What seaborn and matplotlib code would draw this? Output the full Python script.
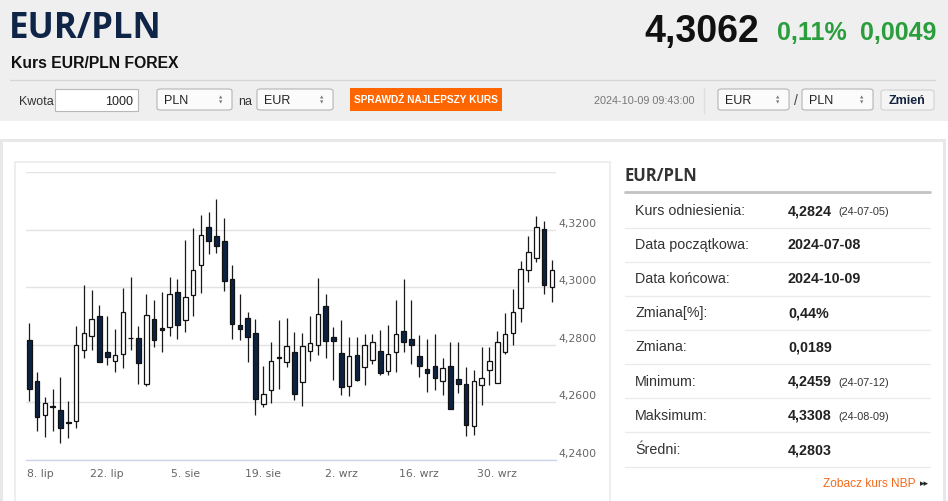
import numpy as np
import pandas as pd
import matplotlib
matplotlib.use("Agg")
import matplotlib.pyplot as plt
import matplotlib.transforms as mtransforms
from matplotlib.patches import Rectangle, FancyBboxPatch
from matplotlib.lines import Line2D
import seaborn as sns

# trading days 2024-07-08 .. 2024-10-09 (ordinal axis)
dates = pd.bdate_range("2024-07-08", "2024-10-09")

opens = [4.2815, 4.2674, 4.2554, 4.2586, 4.2573, 4.2530, 4.2535, 4.2781, 4.2831, 4.2900,
         4.2774, 4.2743, 4.2767, 4.2824, 4.2824, 4.2663, 4.2889, 4.2859, 4.2861, 4.2983,
         4.2885, 4.2972, 4.3077, 4.3211, 4.3179, 4.3161, 4.3029, 4.2868, 4.2891, 4.2840,
         4.2593, 4.2643, 4.2756, 4.2740, 4.2773, 4.2670, 4.2779, 4.2797, 4.2933, 4.2825,
         4.2770, 4.2655, 4.2763, 4.2722, 4.2746, 4.2777, 4.2708, 4.2776, 4.2848, 4.2821,
         4.2761, 4.2716, 4.2724, 4.2674, 4.2724, 4.2680, 4.2663, 4.2518, 4.2661, 4.2713,
         4.2668, 4.2774, 4.2840, 4.2926, 4.3059, 4.3103, 4.3202, 4.2999]
highs = [4.2875, 4.2704, 4.2617, 4.2646, 4.2687, 4.2603, 4.2866, 4.3007, 4.2991, 4.2939,
         4.2900, 4.2855, 4.2998, 4.3037, 4.2866, 4.2977, 4.2956, 4.2984, 4.3037, 4.3028,
         4.3165, 4.3205, 4.3252, 4.3263, 4.3308, 4.3242, 4.3077, 4.2977, 4.2915, 4.2889,
         4.2726, 4.2808, 4.2886, 4.2892, 4.2843, 4.2842, 4.2900, 4.3031, 4.2977, 4.2861,
         4.2886, 4.2825, 4.2825, 4.2837, 4.2837, 4.2852, 4.2867, 4.2956, 4.3029, 4.2954,
         4.2832, 4.2819, 4.2837, 4.2753, 4.2808, 4.2809, 4.2722, 4.2710, 4.2790, 4.2791,
         4.2846, 4.2910, 4.2993, 4.3092, 4.3179, 4.3249, 4.3232, 4.3095]
lows = [4.2602, 4.2498, 4.2478, 4.2500, 4.2459, 4.2475, 4.2508, 4.2752, 4.2780, 4.2738,
        4.2729, 4.2706, 4.2718, 4.2782, 4.2663, 4.2655, 4.2791, 4.2774, 4.2831, 4.2819,
        4.2843, 4.2898, 4.2979, 4.3115, 4.3120, 4.2985, 4.2819, 4.2817, 4.2739, 4.2554,
        4.2583, 4.2595, 4.2645, 4.2722, 4.2606, 4.2588, 4.2743, 4.2765, 4.2752, 4.2678,
        4.2626, 4.2620, 4.2674, 4.2660, 4.2733, 4.2693, 4.2693, 4.2704, 4.2773, 4.2732,
        4.2686, 4.2635, 4.2643, 4.2625, 4.2576, 4.2631, 4.2483, 4.2486, 4.2590, 4.2660,
        4.2668, 4.2769, 4.2799, 4.2880, 4.3017, 4.3086, 4.2976, 4.2950]
closes = [4.2645, 4.2548, 4.2597, 4.2584, 4.2508, 4.2528, 4.2798, 4.2841, 4.2889, 4.2740,
          4.2757, 4.2763, 4.2912, 4.2822, 4.2736, 4.2903, 4.2817, 4.2851, 4.2976, 4.2868,
          4.2965, 4.3060, 4.3181, 4.3161, 4.3144, 4.3023, 4.2871, 4.2854, 4.2825, 4.2610,
          4.2628, 4.2743, 4.2754, 4.2794, 4.2629, 4.2794, 4.2805, 4.2906, 4.2813, 4.2813,
          4.2651, 4.2759, 4.2676, 4.2797, 4.2808, 4.2700, 4.2768, 4.2837, 4.2810, 4.2797,
          4.2726, 4.2702, 4.2684, 4.2718, 4.2576, 4.2664, 4.2521, 4.2674, 4.2684, 4.2742,
          4.2808, 4.2838, 4.2915, 4.3063, 4.3121, 4.3211, 4.3008, 4.3059]

x_tick_pos = [0, 10, 20, 30, 40, 50, 60]
x_tick_labels = ["8. lip", "22. lip", "5. sie", "19. sie", "2. wrz", "16. wrz", "30. wrz"]
y_ticks = [4.24, 4.26, 4.28, 4.30, 4.32, 4.34]
y_tick_labels = ["4,2400", "4,2600", "4,2800", "4,3000", "4,3200", ""]

table_labels = ["Kurs odniesienia:", "Data początkowa:", "Data końcowa:", "Zmiana[%]:",
                "Zmiana:", "Minimum:", "Maksimum:", "Średni:"]
table_values = ["4,2824", "2024-07-08", "2024-10-09", "0,44%", "0,0189", "4,2459", "4,3308", "4,2803"]
table_dates = ["(24-07-05)", "", "", "", "", "(24-07-12)", "(24-08-09)", ""]

W, H = 948, 501
NAVY = "#0f2547"
DARK = "#0c2243"
GRAY_TXT = "#666666"
ORANGE = "#ff6600"
GREEN = "#2a9d3c"
SANS = ["Liberation Sans", "DejaVu Sans"]

sns.set_theme(style="white")
plt.rcParams["font.family"] = SANS

fig = plt.figure(figsize=(W / 100, H / 100), dpi=100)
fig.patch.set_facecolor("white")


def fx(x):
    return x / W


def fy(y):
    return 1 - y / H


def rect(x0, y0, x1, y1, fc, ec="none", lw=0, z=-10, rounded=False):
    if rounded:
        p = FancyBboxPatch((fx(x0), fy(y1)), fx(x1) - fx(x0), fy(y0) - fy(y1),
                           boxstyle="round,pad=0,rounding_size=0.004",
                           transform=fig.transFigure, fc=fc, ec=ec, lw=lw, zorder=z)
    else:
        p = Rectangle((fx(x0), fy(y1)), fx(x1) - fx(x0), fy(y0) - fy(y1),
                      transform=fig.transFigure, fc=fc, ec=ec, lw=lw, zorder=z)
    fig.patches.append(p)


def hline(x0, x1, y, color, lw=1, z=-5):
    fig.add_artist(Line2D([fx(x0), fx(x1)], [fy(y), fy(y)], transform=fig.transFigure,
                          color=color, lw=lw, zorder=z))


def txt(x, y, s, **kw):
    kw.setdefault("family", SANS)
    fig.text(fx(x), fy(y), s, **kw)


# header background
rect(0, 0, W, 121, "#efefef")
rect(1, 140, 944, 505, "white", ec="#e8e8e8", lw=2.2)
rect(15, 162, 610, 510, "white", ec="#ebebeb", lw=1.2, z=-9)

txt(9, 38, "EUR/PLN", family="Open Sans", weight="bold", size=25, color=NAVY, va="baseline")
txt(11, 68.5, "Kurs EUR/PLN FOREX", weight="bold", size=11.3, color="#111111", va="baseline")
txt(759, 42, "4,3062", weight="bold", size=27, color="#111111", ha="right", va="baseline")
txt(777, 39.5, "0,11%", weight="bold", size=18, color=GREEN, va="baseline")
txt(860, 39.5, "0,0049", weight="bold", size=18, color=GREEN, va="baseline")
hline(10, 935, 79.5, "#d6d6d6")

# toolbar
txt(19, 105, "Kwota", size=9, color="#333333", va="baseline")
rect(55, 89, 138, 111, "white", ec="#b8b8b8", lw=0.8, z=-4)
txt(133, 105, "1000", size=9, color="#222222", ha="right", va="baseline")
for x0, x1, lab in [(157, 232, "PLN"), (257, 333, "EUR"), (718, 789, "EUR"), (802, 873, "PLN")]:
    rect(x0, 89, x1, 110, "#fbfbfb", ec="#b5b5b5", lw=0.8, z=-4, rounded=True)
    txt(x0 + 7, 104.5, lab, size=9, color="#222222", va="baseline")
    txt(x1 - 11, 97.5, "▲", family="DejaVu Sans", size=3.2, color="#777777", ha="center", va="center")
    txt(x1 - 11, 102.5, "▼", family="DejaVu Sans", size=3.2, color="#777777", ha="center", va="center")
txt(238, 105, "na", size=9, color="#333333", va="baseline")
txt(795.5, 105, "/", size=10, color="#444444", ha="center", va="baseline")
rect(350, 88, 502, 111, ORANGE, z=-4)
txt(426, 100, "SPRAWDŹ NAJLEPSZY KURS", weight="bold", size=7.3, color="white", ha="center", va="center")
txt(694, 104, "2024-10-09 09:43:00", size=7.8, color="#777777", ha="right", va="baseline")
fig.add_artist(Line2D([fx(704), fx(704)], [fy(88), fy(113)], transform=fig.transFigure,
                      color="#dddddd", lw=1, zorder=-5))
rect(881, 90, 934, 110, "#f4f4f4", ec="#d2d2d2", lw=0.8, z=-4, rounded=True)
txt(907, 100.5, "Zmień", weight="bold", size=9, color="#13223d", ha="center", va="center")

# candlestick chart
ax = fig.add_axes([fx(26), fy(459.5), fx(556) - fx(26), fy(172.3) - fy(459.5)])
ax.set_facecolor("none")
df = pd.DataFrame({"date": dates, "open": opens, "high": highs, "low": lows, "close": closes})
df["idx"] = np.arange(len(df))
df["down"] = df["close"] < df["open"]
df["bottom"] = df[["open", "close"]].min(axis=1)
df["height"] = (df["close"] - df["open"]).abs()

ax.vlines(df["idx"], df["low"], df["high"], color="#1a1a1a", lw=0.9, zorder=2)
fills = np.where(df["down"], DARK, "white")
ax.bar(df["idx"], df["height"], bottom=df["bottom"], width=0.58, color=fills,
       edgecolor="#111111", linewidth=0.9, zorder=3)

ax.set_xlim(-0.42, 67.53)
ax.set_ylim(4.24, 4.34)
ax.set_yticks(y_ticks)
ax.set_yticklabels([])
ax.tick_params(axis="y", length=0)
ax.grid(axis="y", color="#e3e3e3", lw=1)
ax.set_axisbelow(True)
for side in ["top", "left", "right"]:
    ax.spines[side].set_visible(False)
ax.spines["bottom"].set_color("#ccd6eb")
ax.spines["bottom"].set_linewidth(1)
ax.spines["bottom"].set_zorder(4)
ax.set_xticks(x_tick_pos)
ax.set_xticklabels([])
ax.tick_params(axis="x", length=5.2, width=0.9, color="#ccd6eb", direction="out")

xtrans = mtransforms.offset_copy(ax.get_xaxis_transform(), fig=fig, x=0, y=-14.5, units="dots")
for pos, lab in zip(x_tick_pos, x_tick_labels):
    if pos == 0:
        ax.text(-0.33, 0, lab, transform=xtrans, ha="left", va="center",
                family="DejaVu Sans", size=7.8, color=GRAY_TXT)
    else:
        ax.text(pos, 0, lab, transform=xtrans, ha="center", va="center",
                family="DejaVu Sans", size=7.8, color=GRAY_TXT)

ytrans = mtransforms.offset_copy(ax.get_yaxis_transform(), fig=fig, x=2.5, y=6, units="dots")
for v, lab in zip(y_ticks, y_tick_labels):
    ax.text(1.0, v, lab, transform=ytrans, ha="left", va="center",
            family="DejaVu Sans", size=7.8, color=GRAY_TXT, clip_on=False)

# summary table
txt(625, 181, "EUR/PLN", family="Open Sans", weight="bold", size=12, color="#333333", va="baseline")
hline(625, 930, 192, "#c2c2c2", lw=2)
row_y = [210.5, 244.5, 278.5, 312.5, 346.5, 381, 415, 450]
for i, (lab, val, dt) in enumerate(zip(table_labels, table_values, table_dates)):
    y = row_y[i]
    txt(635, y + 4.5, lab, family="Liberation Sans", size=10.3, color="#333333", va="baseline")
    txt(788, y + 4.5, val, weight="bold", size=10.3, color="#222222", va="baseline")
    if dt:
        txt(838, y + 4.5, dt, family="Liberation Sans", size=7.8, color="#333333", va="baseline")
    hline(625, 930, y + 17, "#ebebeb", lw=1)

txt(916, 487, "Zobacz kurs NBP", family="Liberation Sans", size=8.6, color="#f26a1b", ha="right", va="baseline")
txt(929, 486, "▸▸", family="DejaVu Sans", size=6.5, color="#222222", ha="right", va="baseline")

fig.savefig("out.png", dpi=100)
